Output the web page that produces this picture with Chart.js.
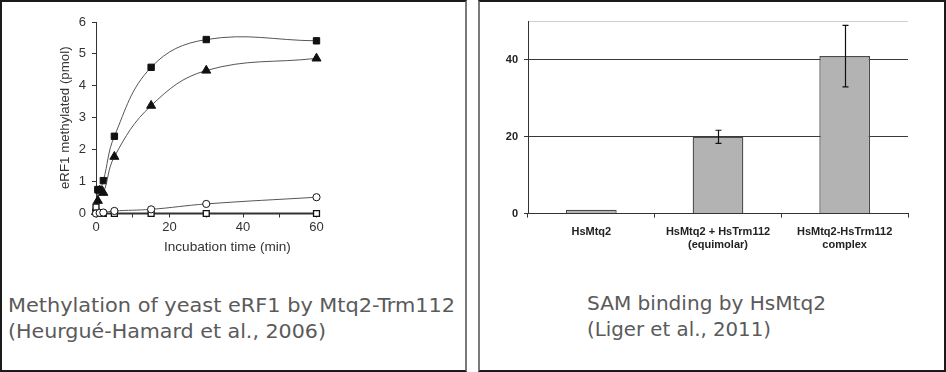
<!DOCTYPE html>
<html><head><meta charset="utf-8">
<script src="https://cdn.jsdelivr.net/npm/chart.js@4"></script>
<style>
html,body{margin:0;padding:0;background:#fff;}
body{position:relative;width:946px;height:372px;overflow:hidden;}
.panel{position:absolute;box-sizing:border-box;border:2px solid #1a1a1a;}
#p1{left:0;top:0;width:467px;height:372px;border-right-color:#7a7a7a;}
#p2{left:478px;top:0;width:468px;height:372px;border-left-color:#7a7a7a;border-right-color:#1a1a1a;}
.cap{position:absolute;font-family:"DejaVu Sans Condensed","DejaVu Sans",sans-serif;font-size:19px;color:#5a5a5a;line-height:26px;white-space:nowrap;transform-origin:0 0;}
canvas{position:absolute;}
</style></head>
<body>
<div class="panel" id="p1"></div>
<div class="panel" id="p2"></div>
<div style="position:absolute;left:30px;top:8px;width:300px;height:250px;"><canvas id="c1"></canvas></div>
<div style="position:absolute;left:480px;top:5px;width:460px;height:255px;"><canvas id="c2"></canvas></div>
<div class="cap" id="cap1a" data-w="447" style="left:8px;top:292px;">Methylation of yeast eRF1 by Mtq2-Trm112</div>
<div class="cap" id="cap1b" data-w="318" style="left:8px;top:318px;">(Heurgué-Hamard et al., 2006)</div>
<div class="cap" id="cap2a" data-w="239" style="left:587px;top:290px;">SAM binding by HsMtq2</div>
<div class="cap" id="cap2b" data-w="184" style="left:587px;top:316px;">(Liger et al., 2011)</div>
<script>
// ---------- Left chart data ----------
const sqTimes = [0, 0.5, 1, 2, 5, 15, 30, 60];
const sqValues = [0.05, 0.75, 0.75, 1.03, 2.42, 4.58, 5.45, 5.41];
const triTimes = [0, 0.5, 1, 2, 5, 15, 30, 60];
const triValues = [0.05, 0.4, 0.72, 0.65, 1.78, 3.38, 4.48, 4.86];
const circTimes = [0, 1, 2, 5, 15, 30, 60];
const circValues = [0, 0.02, 0.03, 0.08, 0.13, 0.3, 0.51];
const osqTimes = [0, 1, 2, 5, 15, 30, 60];
const osqValues = [0.2, 0, 0, 0, 0, 0, 0];
const xTickValues = [0, 10, 20, 30, 40, 50, 60];
const yTickValues = [0, 1, 2, 3, 4, 5, 6];
const xTitle = 'Incubation time (min)';
const yTitle = 'eRF1 methylated (pmol)';

// ---------- Right chart data ----------
const barLabels = [["HsMtq2"], ["HsMtq2 + HsTrm112", "(equimolar)"], ["HsMtq2-HsTrm112", "complex"]];
const barValues = [1, 20, 41];
const barErrors = [0, 1.7, 8];
const barTickValues = [0, 20, 40, 50];

Chart.defaults.animation = false;
Chart.defaults.responsive = true;
Chart.defaults.maintainAspectRatio = false;

function pts(t, v) { return t.map((x, i) => ({x: x, y: v[i]})); }

const tickFont = {family: "'Liberation Sans', Arial, sans-serif", size: 13};
const yTitleFont = {family: "'Liberation Sans', Arial, sans-serif", size: 13.3};

const xTitlePlugin = {
  id: 'xtitle',
  afterDraw(chart) {
    const a = chart.chartArea, ctx = chart.ctx;
    ctx.save();
    ctx.font = "13.6px 'Liberation Sans', Arial, sans-serif";
    ctx.fillStyle = '#333';
    ctx.textAlign = 'center';
    ctx.textBaseline = 'middle';
    ctx.fillText(xTitle, a.left + 0.596 * (a.right - a.left), a.bottom + 34);
    ctx.restore();
  }
};

new Chart(document.getElementById('c1'), {
  type: 'line',
  data: {
    datasets: [
      {data: pts(circTimes, circValues), borderColor: '#555', borderWidth: 1, tension: 0.4, pointStyle: 'circle', pointRadius: 3.6, pointBackgroundColor: '#fff', pointBorderColor: '#111', pointBorderWidth: 1, clip: false},
      {data: pts(osqTimes, osqValues), borderColor: '#333', borderWidth: 2.2, tension: 0, pointStyle: 'rect', pointRadius: 4.2, pointBackgroundColor: '#fff', pointBorderColor: '#111', pointBorderWidth: 1.3, clip: false},
      {data: pts(triTimes, triValues), borderColor: '#555', borderWidth: 1, tension: 0.4, pointStyle: 'triangle', pointRadius: 5.2, pointBackgroundColor: '#111', pointBorderColor: '#111', pointBorderWidth: 1, clip: false},
      {data: pts(sqTimes, sqValues), borderColor: '#555', borderWidth: 1, tension: 0.4, pointStyle: 'rect', pointRadius: 4.5, pointBackgroundColor: '#111', pointBorderColor: '#111', pointBorderWidth: 1, clip: false}
    ]
  },
  options: {
    layout: {padding: {top: 14, right: 13.5, left: 0, bottom: 0}},
    plugins: {legend: {display: false}, tooltip: {enabled: false}},
    scales: {
      x: {
        type: 'linear', min: 0, max: 60,
        afterBuildTicks: s => { s.ticks = xTickValues.map(v => ({value: v})); },
        afterFit: s => { s.height = 44.5; },
        ticks: {font: tickFont, color: '#333', padding: 2, maxRotation: 0, autoSkip: false,
          callback: v => (v % 20 === 0 ? String(v) : '')},
        grid: {drawOnChartArea: false, drawTicks: true, tickLength: 4, color: '#333'},
        border: {display: true, color: '#333', width: 1}
      },
      y: {
        type: 'linear', min: 0, max: 6,
        afterBuildTicks: s => { s.ticks = yTickValues.map(v => ({value: v})); },
        afterFit: s => { s.width = 66; },
        ticks: {font: tickFont, color: '#333', padding: 6},
        grid: {drawOnChartArea: false, drawTicks: true, tickLength: 4, color: '#333'},
        border: {display: true, color: '#333', width: 1},
        title: {display: true, text: yTitle, font: yTitleFont, color: '#333', padding: {top: 27, bottom: 0}}
      }
    }
  },
  plugins: [xTitlePlugin]
});

const errPlugin = {
  id: 'errbars',
  afterDatasetsDraw(chart) {
    const meta = chart.getDatasetMeta(0);
    const ys = chart.scales.y;
    const ctx = chart.ctx;
    ctx.save();
    ctx.strokeStyle = '#111';
    ctx.lineWidth = 1.2;
    meta.data.forEach((bar, i) => {
      const e = barErrors[i];
      if (!e) return;
      const t = ys.getPixelForValue(barValues[i] + e);
      const b = ys.getPixelForValue(barValues[i] - e);
      const x = Math.round(bar.x) + 0.5;
      ctx.beginPath();
      ctx.moveTo(x, t); ctx.lineTo(x, b);
      ctx.moveTo(x - 3, t); ctx.lineTo(x + 3, t);
      ctx.moveTo(x - 3, b); ctx.lineTo(x + 3, b);
      ctx.stroke();
    });
    ctx.restore();
  }
};

const barFont = {family: "'Liberation Sans', Arial, sans-serif", size: 11, weight: 'bold'};

new Chart(document.getElementById('c2'), {
  type: 'bar',
  data: {
    labels: barLabels,
    datasets: [{data: barValues, backgroundColor: '#b3b3b3', borderColor: '#4a4a4a', borderWidth: 1.3,
      categoryPercentage: 1, barPercentage: 0.4}]
  },
  options: {
    layout: {padding: {top: 16.5, right: 32, left: 0, bottom: 0}},
    plugins: {legend: {display: false}, tooltip: {enabled: false}},
    scales: {
      x: {
        ticks: {font: barFont, color: '#222', padding: 8, maxRotation: 0, autoSkip: false},
        grid: {offset: true, drawOnChartArea: true, drawTicks: true, tickLength: 4,
          color: c => (c.index === 3 ? '#cfcfcf' : 'rgba(0,0,0,0)'), tickColor: '#333'},
        border: {display: true, color: '#333', width: 1}
      },
      y: {
        min: 0, max: 50,
        afterBuildTicks: s => { s.ticks = barTickValues.map(v => ({value: v})); },
        afterFit: s => { s.width = 48; },
        ticks: {font: barFont, color: '#222', padding: 6, callback: v => (v === 50 ? '' : String(v))},
        grid: {drawTicks: true, tickLength: 4,
          color: c => (c.tick && c.tick.value === 50 ? '#cfcfcf' : '#3a3a3a'),
          tickColor: c => (c.tick && c.tick.value === 50 ? 'rgba(0,0,0,0)' : '#333')},
        border: {display: true, color: '#333', width: 1}
      }
    }
  },
  plugins: [errPlugin]
});

// fit caption widths
document.querySelectorAll('.cap').forEach(el => {
  const w = el.getBoundingClientRect().width;
  const target = parseFloat(el.dataset.w);
  el.style.transform = 'scaleX(' + (target / w) + ')';
});
</script>
</body></html>
